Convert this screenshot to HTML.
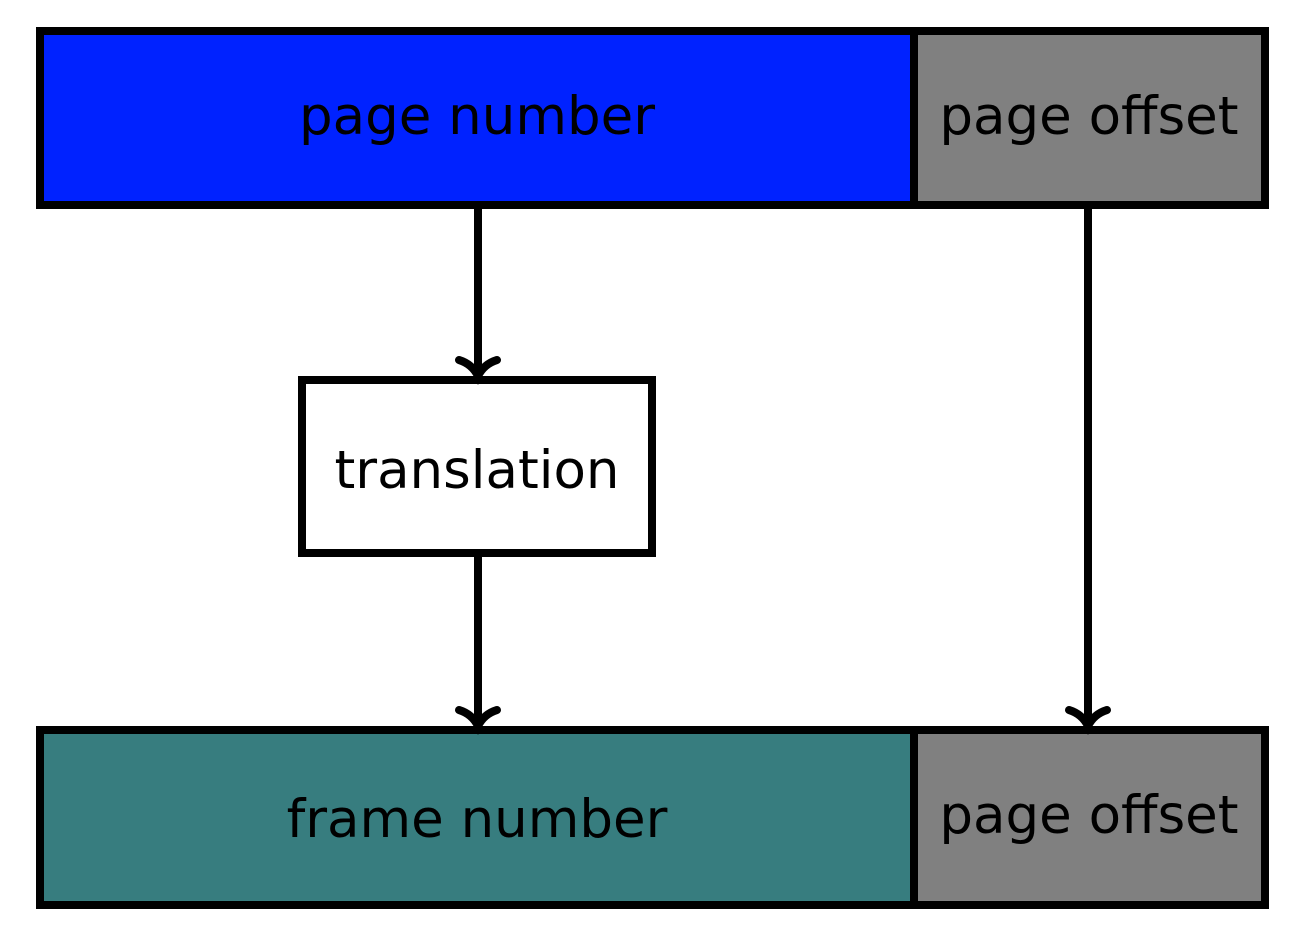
<!DOCTYPE html>
<html><head><style>html,body{margin:0;padding:0;background:#fff}svg{display:block}</style></head>
<body>
<svg width="1300" height="944" viewBox="0 0 1300 944" xmlns="http://www.w3.org/2000/svg" font-family="DejaVu Sans, Liberation Sans, sans-serif" font-size="53">
<g stroke="#000" stroke-width="8">
<rect x="40" y="31" width="874" height="174" fill="#0022ff"/>
<rect x="914" y="31" width="351" height="174" fill="#808080"/>
<rect x="302" y="380" width="350" height="173" fill="#fff"/>
<rect x="40" y="730" width="874" height="175" fill="#377d7f"/>
<rect x="914" y="730" width="351" height="175" fill="#808080"/>
<line x1="478" y1="205" x2="478" y2="376"/>
<line x1="478" y1="553" x2="478" y2="726"/>
<line x1="1088" y1="205" x2="1088" y2="726"/>
</g>
<g fill="none" stroke="#000" stroke-width="8" stroke-linecap="round">
<path d="M459 360 Q472 364 478 376 Q484 364 497 360"/>
<path d="M459 710 Q472 714 478 726 Q484 714 497 710"/>
<path d="M1069 710 Q1082 714 1088 726 Q1094 714 1107 710"/>
</g>
<g fill="#000" text-anchor="middle">
<text x="477" y="134">page number</text>
<text x="1089" y="134">page offset</text>
<text x="477" y="488">translation</text>
<text x="477" y="837">frame number</text>
<text x="1089" y="833">page offset</text>
</g>
</svg>
</body></html>
